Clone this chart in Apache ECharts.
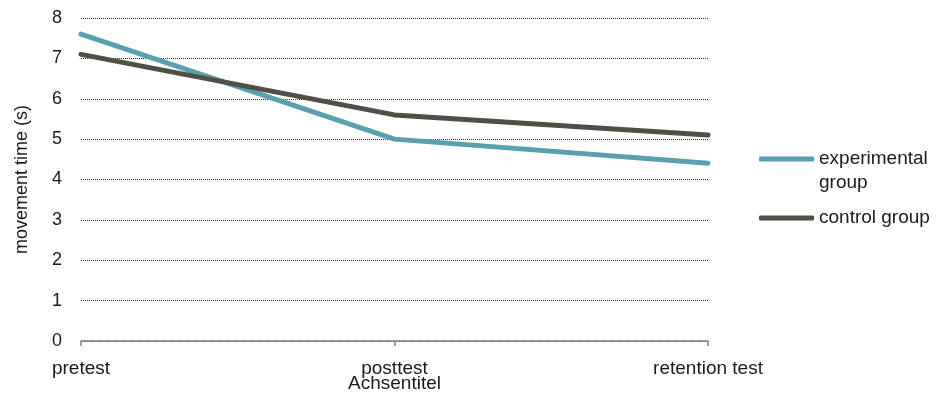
<!DOCTYPE html>
<html>
<head>
<meta charset="utf-8">
<script src="https://cdn.jsdelivr.net/npm/echarts@6/dist/echarts.min.js"></script>
<style>html,body{margin:0;padding:0;background:#fff}#c{width:946px;height:394px}</style>
</head>
<body>
<div id="c"></div>
<script>
const categories = ['pretest', 'posttest', 'retention test'];
const seriesNames = ['experimental group', 'control group'];
const experimental = [7.6, 5.0, 4.4];
const control = [7.1, 5.6, 5.1];
const yTicks = [0, 1, 2, 3, 4, 5, 6, 7, 8];
const xTitle = 'Achsentitel';
const yTitle = 'movement time (s)';

const FONT = 'Liberation Sans, Arial, sans-serif';
const chart = echarts.init(document.getElementById('c'), null, {renderer: 'canvas'});
chart.setOption({
  animation: false,
  backgroundColor: '#fff',
  textStyle: {fontFamily: FONT},
  grid: {left: 81, right: 238, top: 18, bottom: 53, containLabel: false, outerBoundsMode: 'none'},
  legend: {
    orient: 'vertical',
    left: 754,
    top: 118,
    itemWidth: 55,
    itemHeight: 5,
    itemGap: 11,
    icon: 'roundRect',
    data: seriesNames,
    formatter: function (n) { return n === 'experimental group' ? '\nexperimental\ngroup' : n; },
    textStyle: {fontSize: 19, color: '#1a1a1a', lineHeight: 24, fontFamily: FONT}
  },
  xAxis: {
    type: 'category',
    data: categories,
    boundaryGap: false,
    name: xTitle,
    nameLocation: 'middle',
    nameGap: 33,
    nameMoveOverlap: false,
    nameTextStyle: {fontSize: 19, color: '#1a1a1a', fontFamily: FONT},
    axisLine: {lineStyle: {color: '#7f7f7f', width: 1.5}},
    axisTick: {show: true, length: 5, lineStyle: {color: '#7f7f7f', width: 1.5}},
    axisLabel: {fontSize: 19, color: '#1a1a1a', margin: 18, fontFamily: FONT},
    splitLine: {show: false}
  },
  yAxis: {
    type: 'value',
    min: yTicks[0],
    max: yTicks[yTicks.length - 1],
    interval: 1,
    name: yTitle,
    nameLocation: 'middle',
    nameGap: 50,
    nameRotate: 90,
    nameMoveOverlap: false,
    nameTextStyle: {fontSize: 18, color: '#1a1a1a', fontFamily: FONT},
    axisLine: {show: false},
    axisTick: {show: false},
    axisLabel: {fontSize: 18, color: '#1a1a1a', margin: 19, fontFamily: FONT},
    splitLine: {show: true, lineStyle: {color: '#333', type: [1, 1], width: 1}}
  },
  series: [
    {
      name: seriesNames[0], type: 'line', data: experimental, showSymbol: false, symbol: 'none',
      lineStyle: {color: '#5a9fae', width: 5, cap: 'round'}, itemStyle: {color: '#5a9fae'}, z: 3
    },
    {
      name: seriesNames[1], type: 'line', data: control, showSymbol: false, symbol: 'none',
      lineStyle: {color: '#514e45', width: 5, cap: 'round'}, itemStyle: {color: '#514e45'}, z: 4
    }
  ]
});
</script>
</body>
</html>
